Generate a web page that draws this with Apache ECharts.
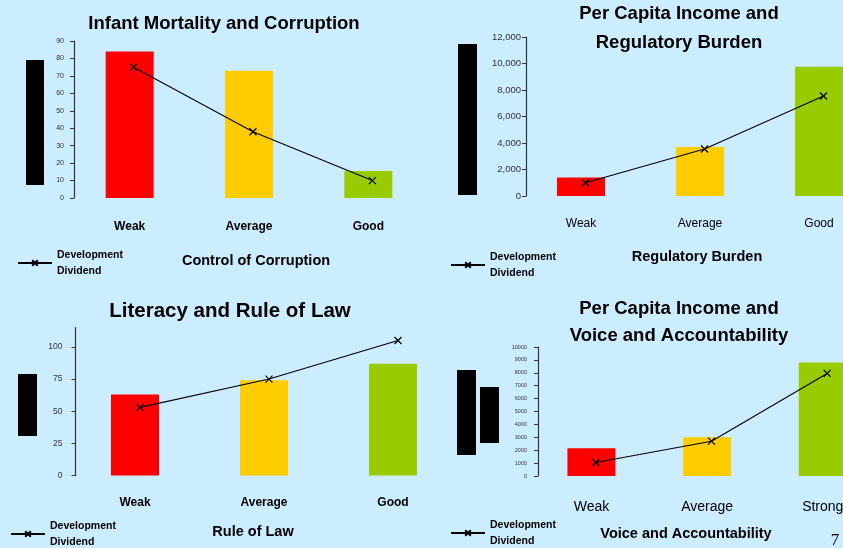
<!DOCTYPE html>
<html>
<head>
<meta charset="utf-8">
<script src="https://cdn.jsdelivr.net/npm/echarts@6/dist/echarts.min.js"></script>
<style>
  html, body { margin: 0; padding: 0; background: #ccecff; }
  #chart { width: 843px; height: 548px; }
</style>
</head>
<body>
<div id="chart"></div>
<script>
// valores
const catsGood = ['Weak', 'Average', 'Good']
const catsStrong = ['Weak', 'Average', 'Strong']
const mortality = [84, 73, 15.5]
const mortalityDividend = [75, 38, 10]
const incomeReg = [1400, 3700, 9750]
const incomeRegDividend = [1000, 3550, 7550]
const literacy = [63, 74, 87]
const literacyDividend = [53, 75, 105]
const incomeVoice = [2150, 3000, 8800]
const incomeVoiceDividend = [1050, 2700, 7950]
const barColors = ['#ff0000', '#ffcc00', '#99cc00']

const font = 'Liberation Sans, Arial, sans-serif'
const xMark = 'path://M0,0L10,10M10,0L0,10'

let myChart = echarts.init(document.getElementById('chart'), null, { renderer: 'canvas' })

// cada painel: grid das barras + grid da linha (deslocado 4px, como no original)
const panels = [
    { left: 70, lineLeft: 74, width: 358, top: 41, height: 157, cats: catsGood, bars: mortality, line: mortalityDividend,
      max: 90, interval: 10, yFont: 7, yMargin: 10, xFont: 12, xBold: true, xMargin: 23, fmt: v => v },
    { left: 521.5, lineLeft: 526, width: 357, top: 37, height: 159, cats: catsGood, bars: incomeReg, line: incomeRegDividend,
      max: 12000, interval: 2000, yFont: 9.5, yMargin: 5, xFont: 12, xBold: false, xMargin: 22, fmt: v => v.toLocaleString('en-US') },
    { left: 70.5, lineLeft: 75.5, width: 387, top: 327.6, height: 148, cats: catsGood, bars: literacy, line: literacyDividend,
      max: 115, ticks: [0, 25, 50, 75, 100], yFont: 8.5, yMargin: 13, xFont: 12, xBold: true, xMargin: 21, fmt: v => v },
    { left: 533.6, lineLeft: 538, width: 347, top: 347, height: 129, cats: catsStrong, bars: incomeVoice, line: incomeVoiceDividend,
      max: 10000, interval: 1000, yFont: 5.5, yMargin: 11, xFont: 14, xBold: false, xMargin: 24, fmt: v => v }
]

let grids = [], xAxes = [], yAxes = [], series = []
panels.forEach((p, i) => {
    grids.push({ left: p.left, width: p.width, top: p.top, height: p.height, outerBoundsMode: 'none' })
    grids.push({ left: p.lineLeft, width: p.width, top: p.top, height: p.height, outerBoundsMode: 'none' })
    xAxes.push({
        type: 'category', gridIndex: i * 2, data: p.cats,
        axisLine: { show: false }, axisTick: { show: false },
        axisLabel: { color: '#000', fontFamily: font, fontSize: p.xFont, fontWeight: p.xBold ? 'bold' : 'normal', margin: p.xMargin }
    })
    xAxes.push({ type: 'category', gridIndex: i * 2 + 1, data: p.cats, show: false })
    let yBase = { type: 'value', min: 0, max: p.max, splitLine: { show: false } }
    if (p.interval) yBase.interval = p.interval
    yAxes.push(Object.assign({}, yBase, { gridIndex: i * 2, show: false }))
    let yVis = Object.assign({}, yBase, {
        gridIndex: i * 2 + 1,
        axisLine: { show: true, lineStyle: { color: '#333', width: 1.2 } },
        axisTick: { show: true, length: 4, lineStyle: { color: '#333' } },
        axisLabel: { color: '#333', fontFamily: font, fontSize: p.yFont, margin: p.yMargin, formatter: p.fmt }
    })
    if (p.ticks) {
        yVis.axisTick.customValues = p.ticks
        yVis.axisLabel.customValues = p.ticks
    }
    yAxes.push(yVis)
    series.push({
        type: 'bar', xAxisIndex: i * 2, yAxisIndex: i * 2, barWidth: 48,
        data: p.bars.map((v, k) => ({ value: v, itemStyle: { color: barColors[k] } })),
        silent: true
    })
    series.push({
        name: 'Development Dividend', type: 'line', xAxisIndex: i * 2 + 1, yAxisIndex: i * 2 + 1,
        data: p.line, symbol: xMark, symbolSize: 7, z: 5,
        lineStyle: { color: '#000', width: 1.1 },
        itemStyle: { color: 'transparent', borderColor: '#000', borderWidth: 1.2 }
    })
})

const legendPos = [[17, 247], [450, 249], [10, 518], [450, 517]]
let legends = legendPos.map(pos => ({
    left: pos[0], top: pos[1], padding: 0,
    data: ['Development Dividend'], itemWidth: 34, itemHeight: 7,
    lineStyle: { width: 2 },
    formatter: () => 'Development\nDividend',
    textStyle: { fontFamily: font, fontSize: 10.5, fontWeight: 'bold', color: '#000', lineHeight: 16 }
}))

function txt(x, y, text, size, extra) {
    return {
        type: 'text', x: x, y: y, silent: true,
        style: Object.assign({ text: text, fill: '#000', font: 'bold ' + size + 'px ' + font, align: 'center', verticalAlign: 'middle' }, extra || {})
    }
}
function box(x, y, w, h) {
    return { type: 'rect', shape: { x: x, y: y, width: w, height: h }, style: { fill: '#000' }, silent: true }
}

myChart.setOption({
    backgroundColor: '#ccecff',
    animation: false,
    grid: grids,
    xAxis: xAxes,
    yAxis: yAxes,
    legend: legends,
    series: series,
    graphic: [
        txt(224, 24, 'Infant Mortality and Corruption', 18.5),
        txt(679, 14, 'Per Capita Income and', 18.5),
        txt(679, 43, 'Regulatory Burden', 18.5),
        txt(230, 311, 'Literacy and Rule of Law', 20.5),
        txt(679, 309, 'Per Capita Income and', 18.5),
        txt(679, 336, 'Voice and Accountability', 18.5),
        txt(256, 261, 'Control of Corruption', 14.5),
        txt(697, 257, 'Regulatory Burden', 14.5),
        txt(253, 532, 'Rule of Law', 14.5),
        txt(686, 534, 'Voice and Accountability', 14.5),
        txt(835, 541, '7', 17, { font: '17px Liberation Serif, serif' }),
        box(26, 60, 18, 125),
        box(458, 44, 19, 151),
        box(18, 374, 19, 62),
        box(457, 370, 19, 85),
        box(480, 387, 19, 56)
    ]
})
</script>
</body>
</html>
